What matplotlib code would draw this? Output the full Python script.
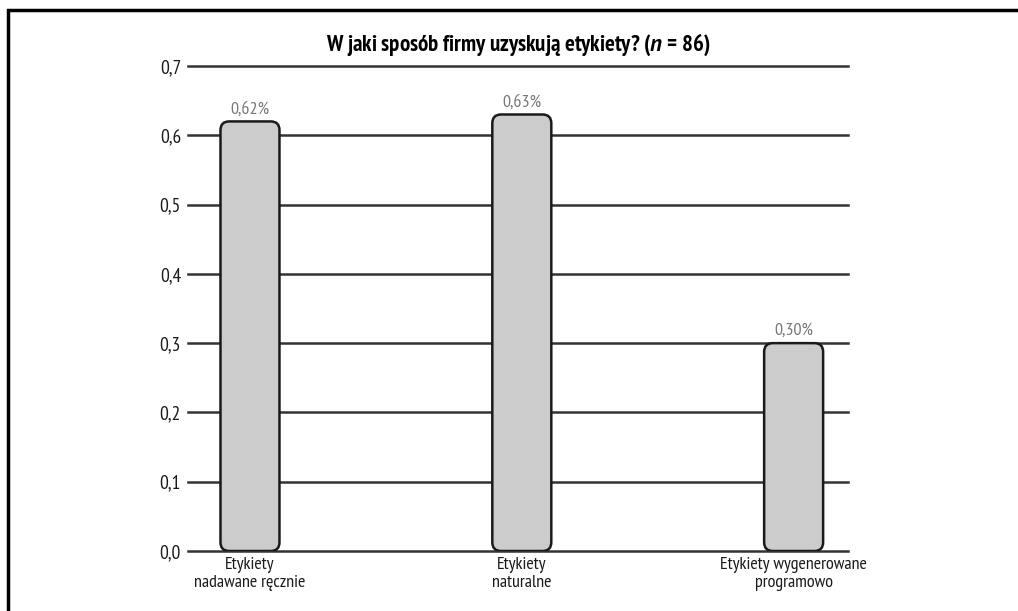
import matplotlib.pyplot as plt
from matplotlib.patches import FancyBboxPatch, Rectangle

plt.rcParams['font.family'] = ['PT Sans Narrow', 'DejaVu Sans']
plt.rcParams['mathtext.fontset'] = 'custom'
plt.rcParams['mathtext.rm'] = 'PT Sans Narrow:bold'
plt.rcParams['mathtext.it'] = 'PT Sans:italic:bold'

categories = ['Etykiety\nnadawane ręcznie', 'Etykiety\nnaturalne', 'Etykiety wygenerowane\nprogramowo']
values = [0.62, 0.63, 0.30]
value_labels = ['0,62%', '0,63%', '0,30%']
yticks = [0.0, 0.1, 0.2, 0.3, 0.4, 0.5, 0.6, 0.7]
ytick_labels = ['0,0', '0,1', '0,2', '0,3', '0,4', '0,5', '0,6', '0,7']

fig = plt.figure(figsize=(10.18, 6.11), dpi=100)
ax = fig.add_axes([188 / 1018, 1 - 551 / 611, 660 / 1018, 485 / 611])

# frame around the figure (cut off at right/bottom like the scan)
fig.patches.append(Rectangle((8 / 1018, -0.05), 1.1, 1 - 10 / 611 + 0.05,
                             transform=fig.transFigure, fill=False,
                             edgecolor='black', linewidth=2.5))

x = range(len(values))
bars = ax.bar(x, values, width=0.217, color='none', edgecolor='none')

# swap plain rectangles for rounded ones
x_px = 272.0
y_px = 693.0
for b, lab in zip(bars, value_labels):
    p = FancyBboxPatch((b.get_x(), b.get_y()), b.get_width(), b.get_height(),
                       boxstyle='round,pad=0,rounding_size=0.032',
                       mutation_aspect=x_px / y_px,
                       facecolor='#cccccc', edgecolor='#1a1a1a',
                       linewidth=1.8, zorder=3)
    ax.add_patch(p)
    ax.text(b.get_x() + b.get_width() / 2, b.get_height() + 0.006, lab,
            ha='center', va='bottom', fontsize=13, color='#777777')

ax.set_xlim(-0.228, 2.2)
ax.set_ylim(0, 0.7)
ax.set_yticks(yticks)
ax.set_yticklabels(ytick_labels, fontsize=14, color='#1a1a1a')
ax.set_xticks(list(x))
ax.set_xticklabels(categories, fontsize=13, color='#1a1a1a', linespacing=1.2)
ax.tick_params(axis='y', length=0, pad=5)
ax.tick_params(axis='x', length=0, pad=4)

ax.grid(axis='y', color='#333333', linewidth=1.8, zorder=0)
for gl in ax.get_ygridlines():
    gl.set_clip_on(False)
ax.set_axisbelow(True)
for s in ax.spines.values():
    s.set_visible(False)

ax.set_title('W jaki sposób firmy uzyskują etykiety? ($n$ = 86)',
             fontsize=16.5, fontweight='bold', pad=11)

fig.savefig('out.png', dpi=100)
